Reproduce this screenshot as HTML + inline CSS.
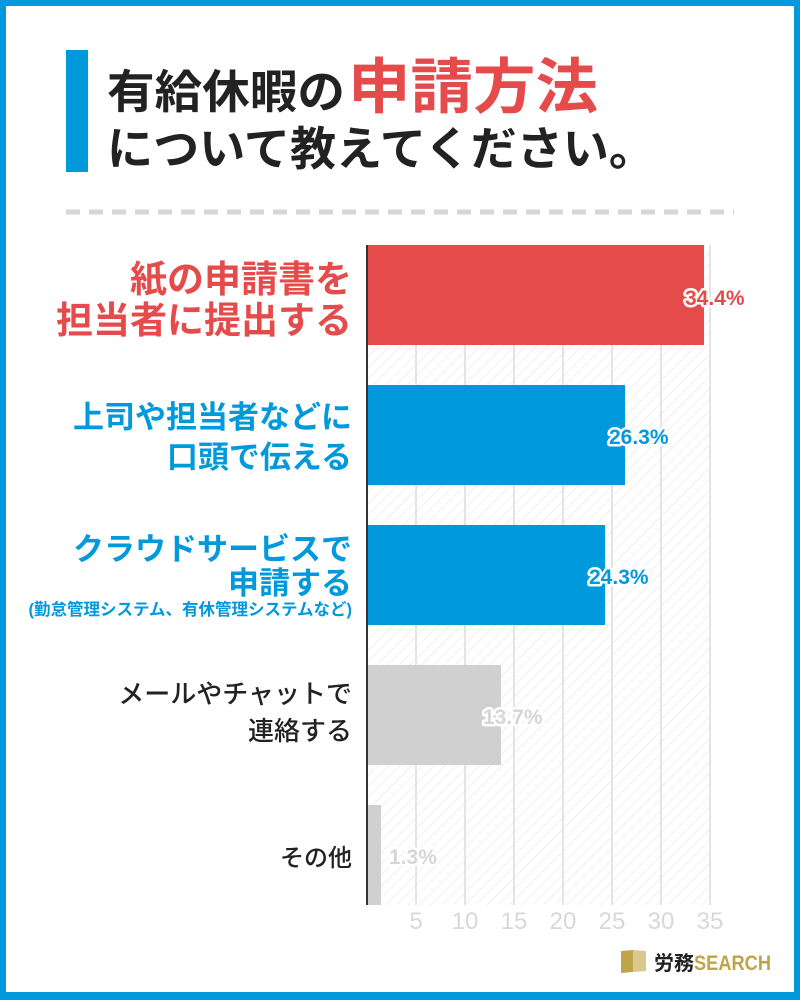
<!DOCTYPE html>
<html><head><meta charset="utf-8"><style>
html,body{margin:0;padding:0;background:#fff}
svg{display:block}
text{font-family:"Liberation Sans","Noto Sans CJK JP",sans-serif;font-weight:bold}
text.n{font-weight:normal}
text.m{font-weight:500}
</style></head><body>
<svg width="800" height="1000" viewBox="0 0 800 1000" xmlns="http://www.w3.org/2000/svg">
<defs>
<pattern id="h" width="8" height="8" patternUnits="userSpaceOnUse" patternTransform="rotate(45)">
<rect width="8" height="8" fill="#fff"/><line x1="0" y1="0" x2="0" y2="8" stroke="#e6e6e6" stroke-width="1.2"/>
</pattern>
</defs>
<rect x="0" y="0" width="800" height="1000" fill="#0099dc"/>
<rect x="6" y="6" width="788" height="986" fill="#fff"/>
<rect x="66" y="50" width="22" height="122" fill="#0099dc"/>
<text x="107" y="108" font-size="46" fill="#222" textLength="238" lengthAdjust="spacingAndGlyphs">有給休暇の</text>
<text x="348" y="108" font-size="60" fill="#e54b4b" textLength="250" lengthAdjust="spacingAndGlyphs">申請方法</text>
<text x="107" y="165" font-size="46" fill="#222" textLength="548" lengthAdjust="spacingAndGlyphs">について教えてください。</text>
<line x1="66" y1="212" x2="734" y2="212" stroke="#d6d6d6" stroke-width="5" stroke-dasharray="14,9"/>
<rect x="368" y="245" width="342" height="660" fill="url(#h)"/>
<g stroke="#e4e4e4" stroke-width="2">
<line x1="416" y1="245" x2="416" y2="905"/><line x1="465" y1="245" x2="465" y2="905"/>
<line x1="514" y1="245" x2="514" y2="905"/><line x1="563" y1="245" x2="563" y2="905"/>
<line x1="612" y1="245" x2="612" y2="905"/><line x1="661" y1="245" x2="661" y2="905"/>
<line x1="710" y1="245" x2="710" y2="905"/>
</g>
<rect x="368" y="245" width="336" height="100" fill="#e54b4b"/>
<rect x="368" y="385" width="257" height="100" fill="#0099dc"/>
<rect x="368" y="525" width="237" height="100" fill="#0099dc"/>
<rect x="368" y="665" width="133" height="100" fill="#d0d0d0"/>
<rect x="368" y="805" width="13" height="100" fill="#d0d0d0"/>
<line x1="367" y1="245" x2="367" y2="905" stroke="#333" stroke-width="2"/>
<g font-size="21" stroke="#fff" stroke-width="5" paint-order="stroke" stroke-linejoin="round">
<text x="685" y="305" fill="#e54b4b">34.4%</text>
<text x="609" y="444" fill="#0099dc">26.3%</text>
<text x="589" y="584" fill="#0099dc">24.3%</text>
<text x="483" y="724" fill="#d6d6d6">13.7%</text>
<text x="389" y="864" fill="#d6d6d6">1.3%</text>
</g>
<g font-size="24" fill="#d8d8d8" text-anchor="middle">
<text class="n" x="416" y="929">5</text><text class="n" x="465" y="929">10</text><text class="n" x="514" y="929">15</text>
<text class="n" x="563" y="929">20</text><text class="n" x="612" y="929">25</text><text class="n" x="661" y="929">30</text><text class="n" x="710" y="929">35</text>
</g>
<g text-anchor="end">
<text x="352" y="292" font-size="37" fill="#e54b4b">紙の申請書を</text>
<text x="352" y="333" font-size="37" fill="#e54b4b">担当者に提出する</text>
<text x="352" y="428" font-size="31" fill="#0099dc">上司や担当者などに</text>
<text x="352" y="468" font-size="31" fill="#0099dc">口頭で伝える</text>
<text x="352" y="560" font-size="31" fill="#0099dc">クラウドサービスで</text>
<text x="352" y="594" font-size="31" fill="#0099dc">申請する</text>
<text x="352" y="615" font-size="16.5" fill="#0099dc">(勤怠管理システム、有休管理システムなど)</text>
<text class="m" x="352" y="703" font-size="26" fill="#222">メールやチャットで</text>
<text class="m" x="352" y="740" font-size="26" fill="#222">連絡する</text>
<text class="m" x="352" y="866" font-size="24" fill="#222">その他</text>
</g>
<polygon points="621,951 633,950 633,972 621,973" fill="#bea54a"/>
<polygon points="633,950 646,951 646,971 633,972" fill="#d9c98e"/>
<text x="654" y="970" font-size="20" fill="#222">労務</text>
<text x="694" y="970" font-size="21" fill="#bea54a" textLength="77" lengthAdjust="spacingAndGlyphs">SEARCH</text>
</svg>
</body></html>
